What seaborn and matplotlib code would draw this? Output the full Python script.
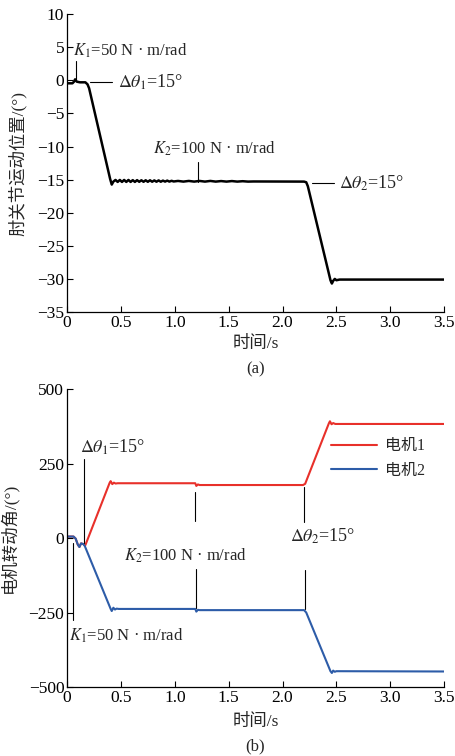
import numpy as np
import pandas as pd
import matplotlib
matplotlib.use("Agg")
import matplotlib.pyplot as plt
import seaborn as sns

# ---------------- data ----------------
# (a) elbow joint position
t_elbow = [0.00, 0.05, 0.065, 0.075, 0.09, 0.12, 0.17, 0.19, 0.205, 0.40, 0.415, 0.43,
           0.45, 0.47, 0.49, 0.51, 0.53, 0.55, 0.57, 0.59, 0.61, 0.63, 0.65, 0.67, 0.69, 0.71,
           0.73, 0.75, 0.77, 0.79, 0.81, 0.83, 0.85, 0.87, 0.89, 0.91, 0.93, 0.95, 0.97, 0.99,
           1.03, 1.08, 1.13, 1.18, 1.23, 1.28, 1.33, 1.38, 1.43, 1.48, 1.53, 1.58, 1.63, 1.68, 1.73,
           2.20, 2.22, 2.235, 2.445, 2.458, 2.47, 2.485, 2.50, 2.53, 3.50]
pos_elbow = [-0.45, -0.45, -0.2, 0.15, -0.2, -0.3, -0.3, -0.6, -1.2, -14.9, -15.75, -15.3,
             -15.05, -15.35, -15.05, -15.35, -15.05, -15.35, -15.05, -15.35, -15.08, -15.35,
             -15.08, -15.33, -15.10, -15.33, -15.10, -15.33, -15.10, -15.32, -15.12, -15.32,
             -15.12, -15.32, -15.15, -15.30, -15.15, -15.30, -15.18, -15.28,
             -15.20, -15.30, -15.20, -15.30, -15.20, -15.30, -15.20, -15.30, -15.22, -15.30,
             -15.22, -15.30, -15.24, -15.30, -15.28,
             -15.3, -15.4, -16.0, -30.2, -30.7, -30.3, -30.0, -30.2, -30.1, -30.1]

# (b) motor rotation angles
t_motor1 = [0.00, 0.06, 0.08, 0.10, 0.115, 0.13, 0.15, 0.17, 0.395, 0.405, 0.42, 0.435, 0.45,
            0.47, 1.19, 1.20, 1.215, 1.23, 2.19, 2.21, 2.43, 2.44, 2.455, 2.47, 2.49, 3.50]
ang_motor1 = [5, 5, -2, -22, -30, -18, -20, -24, 185, 191, 181, 186, 183,
              184, 184, 175, 180, 178, 178, 182, 385, 392, 382, 386, 383, 383]
t_motor2 = [0.00, 0.06, 0.08, 0.10, 0.115, 0.13, 0.15, 0.165, 0.405, 0.415, 0.43, 0.445, 0.46,
            0.48, 1.19, 1.20, 1.215, 1.23, 2.20, 2.22, 2.445, 2.458, 2.47, 2.485, 2.50, 3.50]
ang_motor2 = [5, 5, -2, -22, -30, -18, -20, -27, -238, -245, -234, -240, -237,
              -238, -238, -247, -241, -242, -242, -250, -447, -453, -445, -449, -447, -448]
motor_names = ["电机1", "电机2"]

x_ticks = [0, 0.5, 1.0, 1.5, 2.0, 2.5, 3.0, 3.5]
x_ticklabels = ["0", "0.5", "1.0", "1.5", "2.0", "2.5", "3.0", "3.5"]
y_ticks_a = [10, 5, 0, -5, -10, -15, -20, -25, -30, -35]
y_ticks_b = [500, 250, 0, -250, -500]

# ---------------- style ----------------
sns.set_theme(style="ticks")
plt.rcParams["font.family"] = ["Liberation Serif", "Noto Sans CJK SC"]
plt.rcParams["mathtext.fontset"] = "stix"
plt.rcParams["axes.unicode_minus"] = True

fig = plt.figure(figsize=(4.56, 7.56), dpi=100)
ax1 = fig.add_axes([0.147, 0.5873, 0.827, 0.394])
ax2 = fig.add_axes([0.147, 0.0913, 0.827, 0.394])

df_a = pd.DataFrame({"t": t_elbow, "v": pos_elbow})
sns.lineplot(data=df_a, x="t", y="v", ax=ax1, color="black", lw=1.8, estimator=None, sort=False)

df_b = pd.concat([
    pd.DataFrame({"t": t_motor1, "v": ang_motor1, "m": motor_names[0]}),
    pd.DataFrame({"t": t_motor2, "v": ang_motor2, "m": motor_names[1]}),
], ignore_index=True)
sns.lineplot(data=df_b, x="t", y="v", hue="m", hue_order=motor_names,
             palette=["#e8302a", "#2d5ca8"], ax=ax2, lw=1.5, estimator=None, sort=False)

for ax in (ax1, ax2):
    sns.despine(ax=ax)
    ax.set_xlim(0, 3.5)
    ax.set_xticks(x_ticks)
    ax.set_xticklabels(x_ticklabels)
    ax.tick_params(direction="in", length=4, width=0.8, labelsize=12.5, pad=2, colors="black")
    for s in ("left", "bottom"):
        ax.spines[s].set_linewidth(0.9)
        ax.spines[s].set_color("black")
    ax.set_xlabel("时间/s", fontsize=12.5)

ax1.set_ylim(-35, 10)
ax1.set_yticks(y_ticks_a)
ax1.set_ylabel("肘关节运动位置/(°)", fontsize=12.5)
ax1.yaxis.set_label_coords(-0.108, 0.5)
ax1.xaxis.set_label_coords(0.5, -0.082)

ax2.set_ylim(-500, 500)
ax2.set_yticks(y_ticks_b)
ax2.set_ylabel("电机转动角/(°)", fontsize=12.5)
ax2.yaxis.set_label_coords(-0.13, 0.5)
ax2.xaxis.set_label_coords(0.5, -0.092)

# annotations (a)
lk = dict(color="black", lw=0.8)
ax1.text(0.055, 4.5, r"$K_1$=50 N · m/rad", fontsize=12, va="center", ha="left")
ax1.plot([0.084, 0.084], [2.9, 0.0], **lk)
ax1.text(0.47, -0.3, r"$\Delta\theta_1$=15°", fontsize=13, va="center", ha="left")
ax1.plot([0.214, 0.418], [-0.3, -0.3], **lk)
ax1.text(0.80, -10.3, r"$K_2$=100 N · m/rad", fontsize=12, va="center", ha="left")
ax1.plot([1.22, 1.22], [-12.3, -15.3], **lk)
ax1.text(2.52, -15.5, r"$\Delta\theta_2$=15°", fontsize=13, va="center", ha="left")
ax1.plot([2.27, 2.48], [-15.5, -15.5], **lk)

# annotations (b)
ax2.text(0.12, 305, r"$\Delta\theta_1$=15°", fontsize=13, va="center", ha="left")
ax2.plot([0.16, 0.16], [265, -17], **lk)
ax2.text(0.53, -60, r"$K_2$=100 N · m/rad", fontsize=12, va="center", ha="left")
ax2.plot([1.19, 1.19], [155, 58], **lk)
ax2.plot([1.198, 1.198], [-104, -236], **lk)
ax2.text(2.07, 7, r"$\Delta\theta_2$=15°", fontsize=13, va="center", ha="left")
ax2.plot([2.20, 2.20], [171, 55], **lk)
ax2.plot([2.204, 2.204], [-107, -238], **lk)
ax2.text(0.02, -329, r"$K_1$=50 N · m/rad", fontsize=12, va="center", ha="left")
ax2.plot([0.053, 0.053], [-17, -275], **lk)

handles, labels = ax2.get_legend_handles_labels()
ax2.legend(handles, labels, frameon=False, loc="upper left", bbox_to_anchor=(0.70, 0.835),
           borderaxespad=0, borderpad=0, handlelength=2.9, handletextpad=0.5,
           labelspacing=0.55, fontsize=11.5)

fig.text(0.560, 0.512, "(a)", fontsize=12, ha="center", va="center")
fig.text(0.560, 0.0132, "(b)", fontsize=12, ha="center", va="center")

fig.savefig("out.png", dpi=100)
